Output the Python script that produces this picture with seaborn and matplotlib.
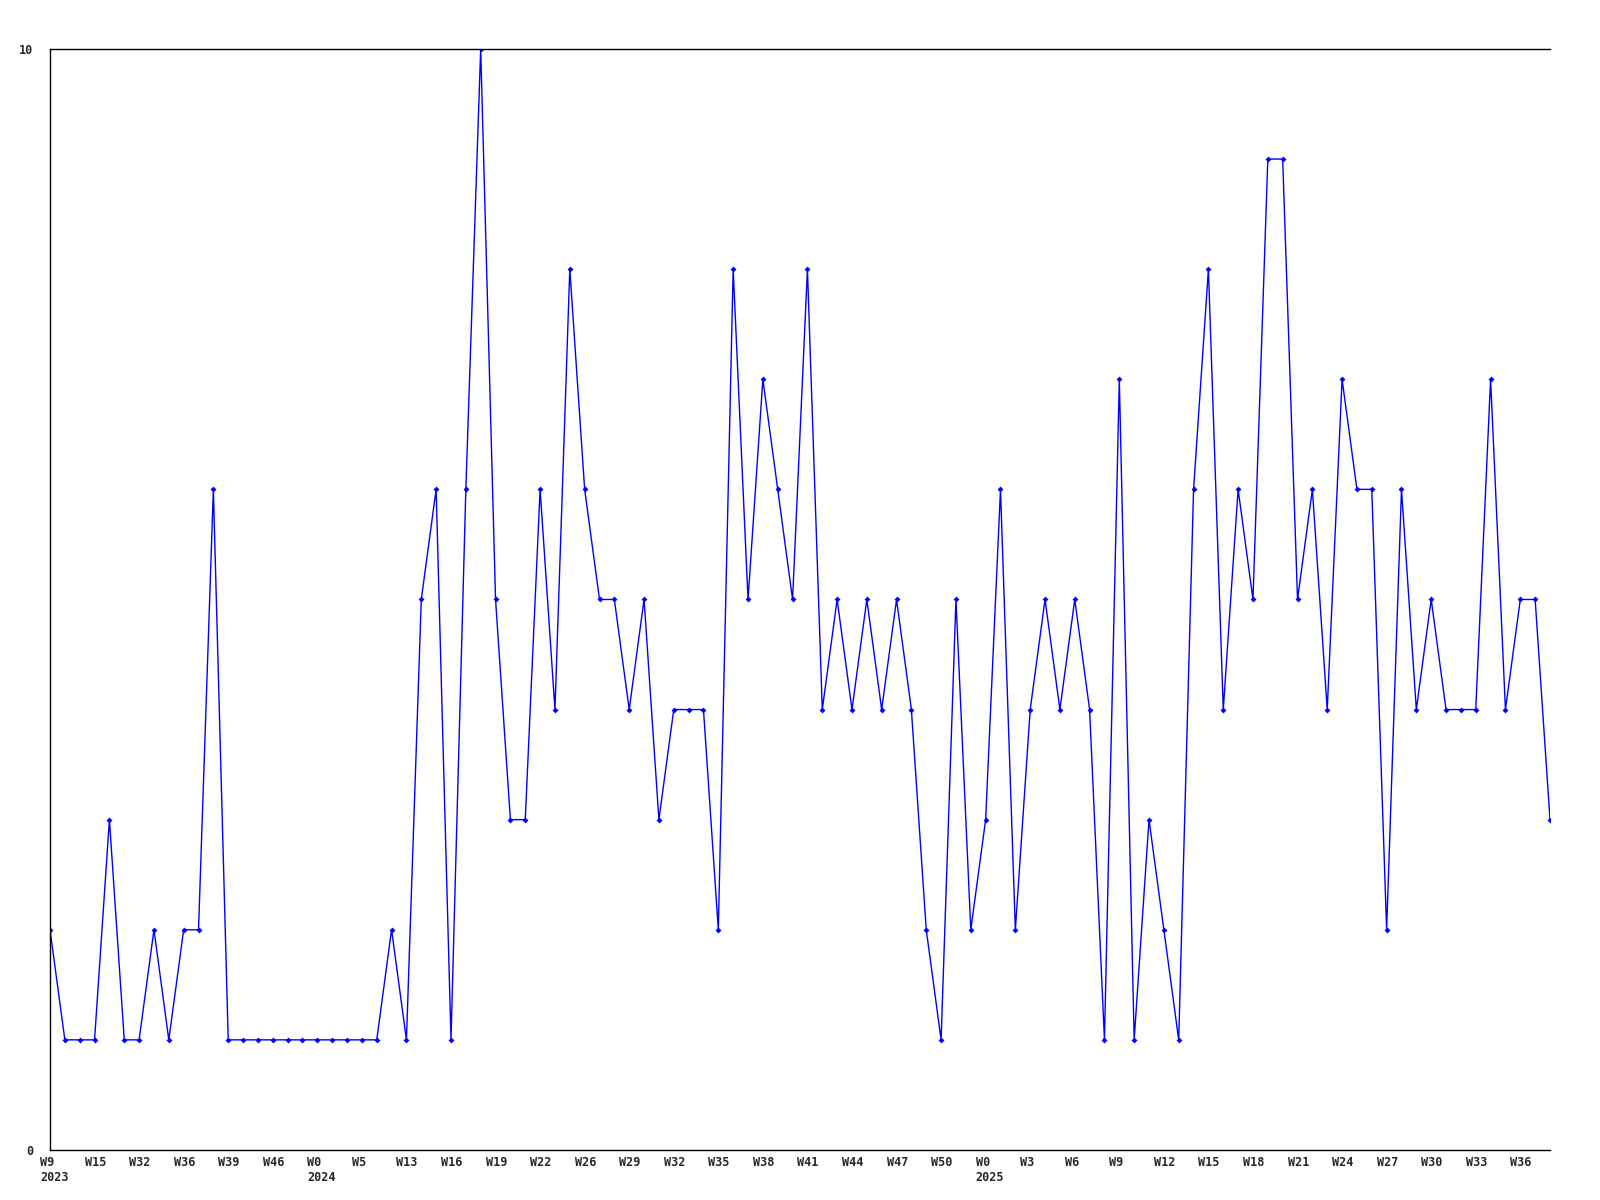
import numpy as np
import pandas as pd
import matplotlib
matplotlib.use("Agg")
import matplotlib.pyplot as plt
import matplotlib.transforms as mtransforms
import seaborn as sns

# -----------------------------
# Data
# -----------------------------
values = [2, 1, 1, 1, 3, 1, 1, 2, 1, 2,
          2, 6, 1, 1, 1, 1, 1, 1, 1, 1,
          1, 1, 1, 2, 1, 5, 6, 1, 6, 10,
          5, 3, 3, 6, 4, 8, 6, 5, 5, 4,
          5, 3, 4, 4, 4, 2, 8, 5, 7, 6,
          5, 8, 4, 5, 4, 5, 4, 5, 4, 2,
          1, 5, 2, 3, 6, 2, 4, 5, 4, 5,
          4, 1, 7, 1, 3, 2, 1, 6, 8, 4,
          6, 5, 9, 9, 5, 6, 4, 7, 6, 6,
          2, 6, 4, 5, 4, 4, 4, 7, 4, 5,
          5, 3]

week_labels = ["W9", "W15", "W32", "W36", "W39", "W46", "W0", "W5", "W13",
               "W16", "W19", "W22", "W26", "W29", "W32", "W35", "W38", "W41",
               "W44", "W47", "W50", "W0", "W3", "W6", "W9", "W12", "W15",
               "W18", "W21", "W24", "W27", "W30", "W33", "W36"]
year_labels = {0: "2023", 6: "2024", 21: "2025"}
label_step = 3

df = pd.DataFrame({"idx": np.arange(len(values)), "value": values})

# -----------------------------
# Plot
# -----------------------------
sns.set_style("white")
plt.rcParams["font.family"] = ["DejaVu Sans Mono", "DejaVu Sans"]

fig = plt.figure(figsize=(16, 12), dpi=100)
ax = fig.add_axes([0.03125, 0.0417, 0.9375, 0.9175])

sns.lineplot(data=df, x="idx", y="value", ax=ax, color="#0000ff",
             linewidth=1.0, marker="D", markersize=3, markeredgewidth=0)

ax.set_xlim(0, len(values) - 1)
ax.set_ylim(0, 10)

tick_pos = [i * label_step for i in range(len(week_labels))]
tick_txt = [w + ("\n" + year_labels[i] if i in year_labels else "")
            for i, w in enumerate(week_labels)]
ax.set_xticks(tick_pos)
ax.set_xticklabels(tick_txt, ha="left", fontsize=8.5, fontweight="bold",
                   linespacing=1.25)
ax.set_yticks([0, 10])
ax.set_yticklabels(["0", "10"], fontsize=8.5, fontweight="bold")

ax.tick_params(axis="x", length=0, pad=4)
ax.tick_params(axis="y", length=0, pad=12)

# shift x labels slightly left of their points
offset = mtransforms.ScaledTranslation(-10 / 100, 0, fig.dpi_scale_trans)
for lab in ax.get_xticklabels():
    lab.set_transform(lab.get_transform() + offset)

ax.set_xlabel("")
ax.set_ylabel("")
for side in ["top", "left", "bottom"]:
    ax.spines[side].set_color("black")
    ax.spines[side].set_linewidth(1.0)
ax.spines["right"].set_visible(False)

fig.savefig("out.png", dpi=100, facecolor="white")
plt.close(fig)
